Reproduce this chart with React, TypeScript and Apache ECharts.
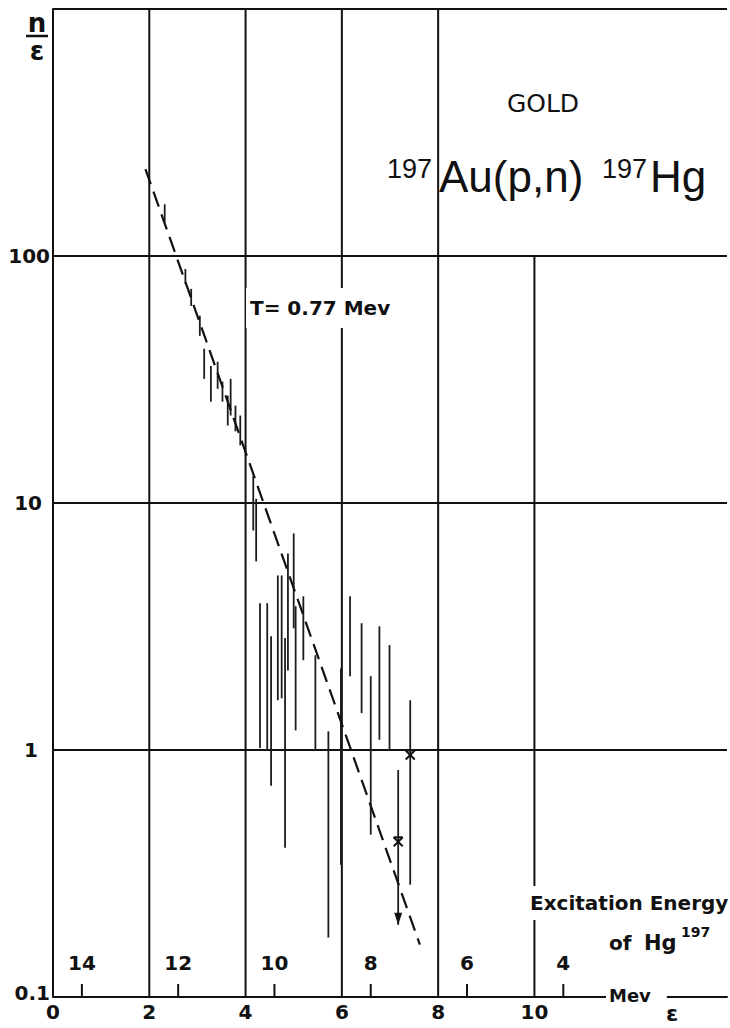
import { useEffect, useRef } from 'react';
import * as echarts from 'echarts';

// Measured spectrum: neutron energy ε (MeV) and the lower / upper ends of each error bar (n/ε)
const barEps = [2.32, 2.75, 2.87, 3.05, 3.14, 3.28, 3.42, 3.52, 3.63, 3.69, 3.79, 3.89, 4.16, 4.22, 4.3, 4.45, 4.53, 4.67, 4.75, 4.82, 4.88, 5.0, 5.04, 5.2, 5.45, 5.72, 5.98, 6.17, 6.41, 6.6, 6.78, 6.99, 7.17, 7.42];
const barLow = [137, 77.1, 62.8, 47.5, 31.8, 25.7, 29.0, 25.7, 20.6, 22.6, 19.5, 17.1, 7.74, 5.8, 1.02, 1.0, 0.716, 1.59, 1.62, 0.402, 2.1, 3.11, 1.2, 2.31, 1.0, 0.174, 0.343, 1.99, 1.41, 0.454, 1.1, 1.0, 0.196, 0.285];
const barHigh = [162, 88.6, 73.6, 57.3, 42.1, 35.9, 37.3, 31.0, 27.2, 31.8, 24.8, 22.6, 12.9, 10.4, 3.93, 3.93, 2.89, 5.09, 5.09, 2.84, 6.25, 7.53, 3.82, 4.19, 2.42, 1.19, 2.14, 4.19, 3.26, 1.99, 3.17, 2.66, 0.83, 1.59];

// Points marked with a cross
const starEps = [7.17, 7.42];
const starVal = [0.425, 0.955];

// Upper-limit point (arrow pointing down)
const arrowEps = [7.17];
const arrowVal = [0.196];

// Exponential fit, T = 0.77 MeV (straight on the log scale)
const fitEps = [1.92, 7.62];
const fitVal = [225, 0.163];

// Vertical rulings and the value at which each one stops at the top
const gridEps = [2, 4, 6, 8, 10];
const gridTop = [1000, 1000, 1000, 1000, 100];

// Excitation energy of Hg197 (MeV); ε + E = 14.6
const excitationTicks = [14, 12, 10, 8, 6, 4];
const excitationSum = 14.6;

const xTickLabels = [0, 2, 4, 6, 8, 10];

const INK = '#111';
const LETTER = '"DejaVu Sans", sans-serif';
const HELV = '"Liberation Sans", Arial, sans-serif';

function txt(text: string, x: number, y: number, font: string, align = 'left', extra: any = {}) {
  return {
    type: 'text',
    x,
    y,
    z: 100,
    style: {
      text,
      font,
      fill: INK,
      align,
      verticalAlign: 'middle',
      textAlign: align,
      textVerticalAlign: 'middle',
      ...extra,
    },
  };
}

export default function App() {
  const ref = useRef<HTMLDivElement>(null);

  useEffect(() => {
    if (!ref.current) return;
    const chart = echarts.init(ref.current, undefined, { renderer: 'svg' });

    const labelBase = { fontFamily: LETTER, fontSize: 20, fontWeight: 'bold', color: INK };

    const option: any = {
      animation: false,
      backgroundColor: '#fff',
      grid: { left: 53, top: 9, width: 683.2, height: 988 },
      xAxis: {
        type: 'value',
        min: 0,
        max: 14,
        interval: 2,
        axisLine: { show: true, lineStyle: { color: INK, width: 2 } },
        axisTick: { show: false },
        splitLine: { show: false },
        axisLabel: {
          margin: 5,
          ...labelBase,
          formatter: (v: number) => (xTickLabels.includes(v) ? String(v) : ''),
        },
      },
      yAxis: {
        type: 'log',
        logBase: 10,
        min: 0.1,
        max: 1000,
        axisLine: { show: true, lineStyle: { color: INK, width: 2 } },
        axisTick: { show: false },
        splitLine: { show: true, lineStyle: { color: INK, width: 2 } },
        axisLabel: {
          margin: 3,
          formatter: (v: number) => {
            const k = Math.round(Math.log10(v));
            if (k === 3) return '';
            const t = k === -1 ? '0.1' : String(Math.pow(10, k));
            const cls = k === 2 ? 'a' : k === 1 ? 'b' : k === 0 ? 'c' : 'd';
            return `{${cls}|${t}}`;
          },
          rich: {
            a: { ...labelBase },
            b: { ...labelBase, padding: [0, 8, 0, 0] },
            c: { ...labelBase, padding: [0, 12, 0, 0] },
            d: { ...labelBase, padding: [0, 0, 8, 0] },
          },
        },
      },
      series: [
        {
          // vertical rulings
          type: 'custom',
          silent: true,
          z: 1,
          data: gridEps.map((x, i) => [x, gridTop[i]]),
          renderItem: (_p: any, api: any) => {
            const a = api.coord([api.value(0), 0.1]);
            const b = api.coord([api.value(0), api.value(1)]);
            return {
              type: 'line',
              shape: { x1: a[0], y1: a[1], x2: b[0], y2: b[1] },
              style: { stroke: INK, lineWidth: 2 },
            };
          },
        },
        {
          // excitation-energy scale along the bottom
          type: 'custom',
          silent: true,
          data: excitationTicks.map((e) => [excitationSum - e, e]),
          renderItem: (_p: any, api: any) => {
            const base = api.coord([api.value(0), 0.1]);
            return {
              type: 'group',
              children: [
                {
                  type: 'line',
                  shape: { x1: base[0], y1: base[1], x2: base[0], y2: base[1] - 13 },
                  style: { stroke: INK, lineWidth: 2 },
                },
                {
                  type: 'text',
                  x: base[0],
                  y: base[1] - 34,
                  style: {
                    text: String(api.value(1)),
                    font: `bold 20px ${LETTER}`,
                    fill: INK,
                    align: 'center',
                    verticalAlign: 'middle',
                    textAlign: 'center',
                    textVerticalAlign: 'middle',
                  },
                },
              ],
            };
          },
        },
        {
          // error bars
          type: 'custom',
          silent: true,
          encode: { x: 0, y: [1, 2] },
          data: barEps.map((x, i) => [x, barLow[i], barHigh[i]]),
          renderItem: (_p: any, api: any) => {
            const a = api.coord([api.value(0), api.value(1)]);
            const b = api.coord([api.value(0), api.value(2)]);
            return {
              type: 'line',
              shape: { x1: a[0], y1: a[1], x2: b[0], y2: b[1] },
              style: { stroke: '#1c1c1c', lineWidth: 1.8 },
            };
          },
        },
        {
          // cross marks
          type: 'custom',
          silent: true,
          data: starEps.map((x, i) => [x, starVal[i]]),
          renderItem: (_p: any, api: any) => {
            const c = api.coord([api.value(0), api.value(1)]);
            const r = 4.5;
            const s = { stroke: INK, lineWidth: 2 };
            return {
              type: 'group',
              children: [
                { type: 'line', shape: { x1: c[0] - r, y1: c[1] - r, x2: c[0] + r, y2: c[1] + r }, style: s },
                { type: 'line', shape: { x1: c[0] + r, y1: c[1] - r, x2: c[0] - r, y2: c[1] + r }, style: s },
                { type: 'line', shape: { x1: c[0] - r, y1: c[1] - r, x2: c[0] + r, y2: c[1] - r }, style: s },
              ],
            };
          },
        },
        {
          // downward arrow for the upper limit
          type: 'custom',
          silent: true,
          data: arrowEps.map((x, i) => [x, arrowVal[i]]),
          renderItem: (_p: any, api: any) => {
            const c = api.coord([api.value(0), api.value(1)]);
            return {
              type: 'polygon',
              shape: { points: [[c[0] - 4, c[1] - 12], [c[0] + 4, c[1] - 12], [c[0], c[1]]] },
              style: { fill: INK },
            };
          },
        },
        {
          // exponential fit
          type: 'line',
          silent: true,
          showSymbol: false,
          symbol: 'none',
          data: fitEps.map((x, i) => [x, fitVal[i]]),
          lineStyle: { color: INK, width: 2.2, type: [16, 8] },
        },
      ],
      graphic: [
        // n / ε axis title
        txt('n', 37, 23, `bold 26px ${LETTER}`, 'center'),
        {
          type: 'line',
          z: 100,
          shape: { x1: 26, y1: 36, x2: 48, y2: 36 },
          style: { stroke: INK, lineWidth: 2.5 },
        },
        txt('ε', 37, 51, `bold 26px ${LETTER}`, 'center'),
        // titles
        txt('GOLD', 543, 103, `25px ${LETTER}`, 'center'),
        txt('197', 387, 169, `27px ${HELV}`),
        txt('Au(p,n)', 439, 176, `44px ${HELV}`),
        txt('197', 602, 169, `27px ${HELV}`),
        txt('Hg', 650, 176, `44px ${HELV}`),
        // fit annotation
        txt('T= 0.77 Mev', 246, 308, `bold 20px ${LETTER}`, 'left', {
          backgroundColor: '#fff',
          padding: [10, 4, 10, 4],
        }),
        // lower scale caption
        txt('Excitation Energy', 526, 903, `bold 20px ${LETTER}`, 'left', {
          backgroundColor: '#fff',
          padding: [8, 4, 6, 4],
        }),
        txt('of', 609, 943, `bold 20px ${LETTER}`),
        txt('Hg', 644, 943, `bold 21px ${LETTER}`),
        txt('197', 681, 932, `bold 14px ${LETTER}`),
        txt('Mev', 606, 995, `bold 18px ${LETTER}`, 'left', {
          backgroundColor: '#fff',
          padding: [4, 16, 4, 3],
        }),
        txt('ε', 672, 1013, `bold 22px ${LETTER}`, 'center'),
      ],
    };

    chart.setOption(option);
    return () => chart.dispose();
  }, []);

  return (
    <div
      ref={ref}
      style={{ position: 'fixed', left: 0, top: 0, width: 730, height: 1028, background: '#fff' }}
    />
  );
}
